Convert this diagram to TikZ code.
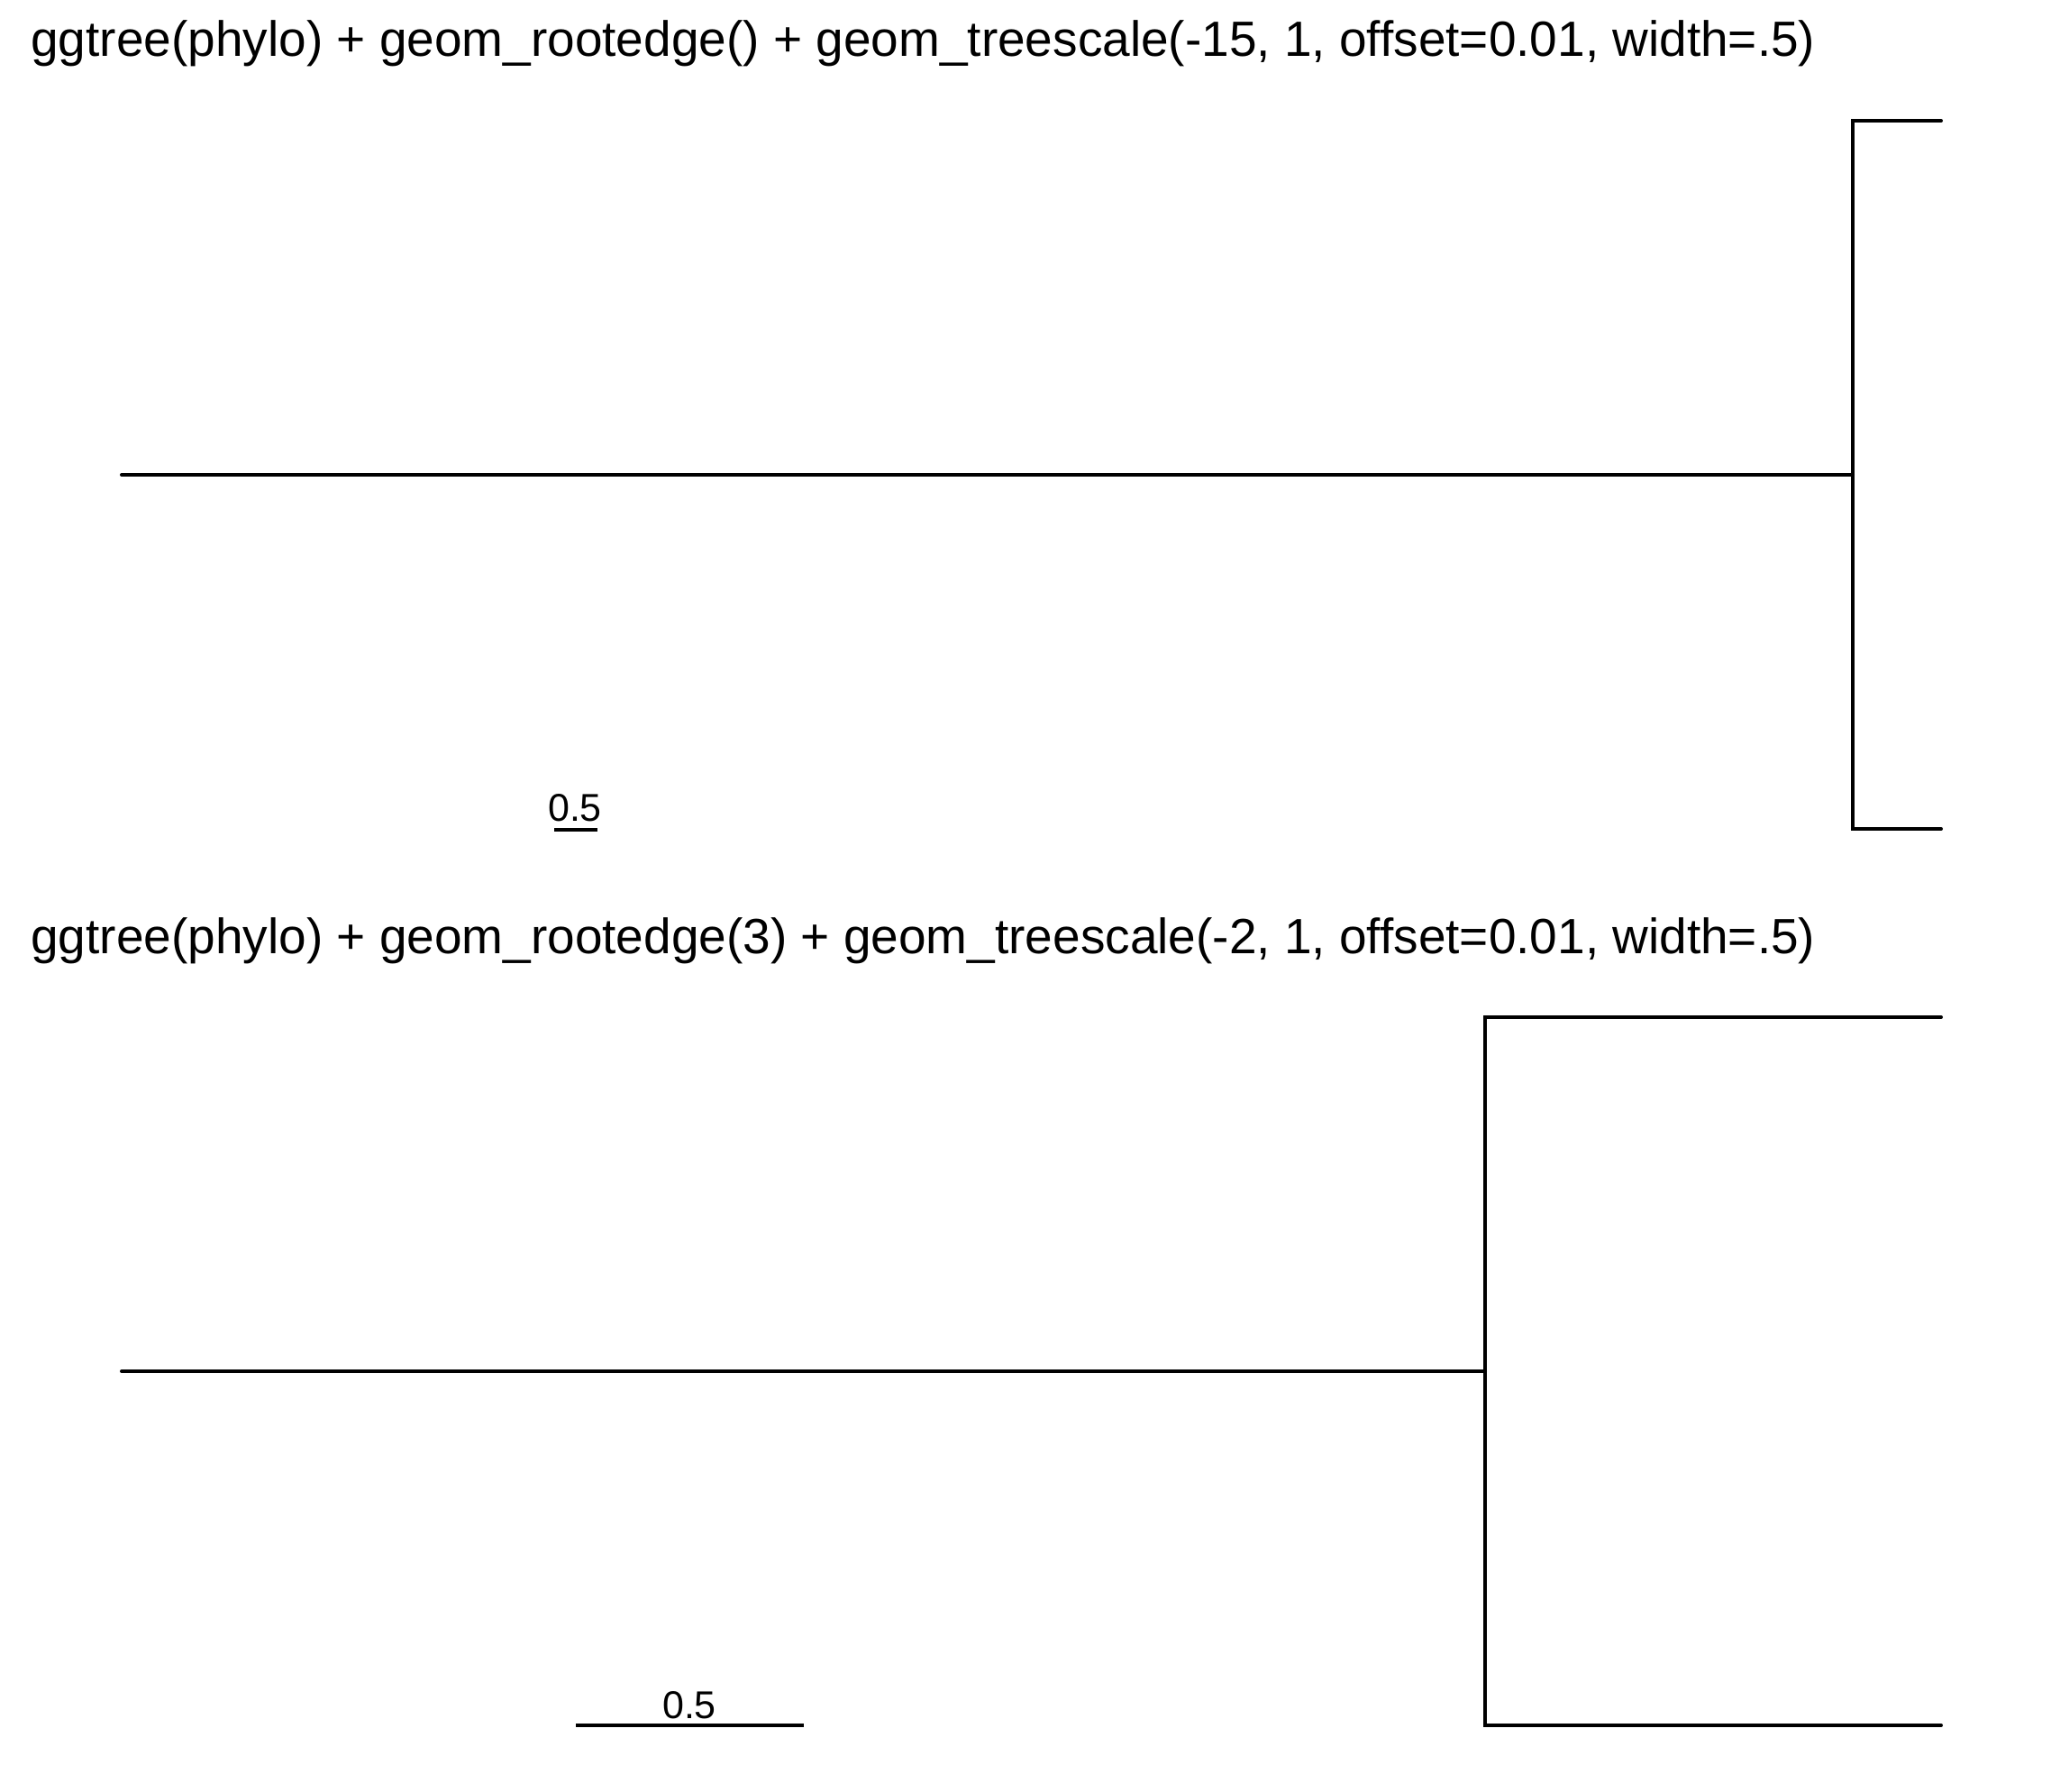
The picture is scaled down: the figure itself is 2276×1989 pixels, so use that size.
\documentclass[tikz,border=0pt]{standalone}
\usepackage{fontspec}
\setmainfont{Liberation Sans}
\begin{document}
\begin{tikzpicture}[x=0.5pt,y=-0.5pt,
  edge/.style={line width=2pt,line cap=round,line join=miter,black},
  titletext/.style={anchor=base west,inner sep=0pt,font=\fontsize{27.5pt}{33pt}\selectfont},
  scaletext/.style={anchor=base,inner sep=0pt,font=\fontsize{21.5pt}{26pt}\selectfont}]
\useasboundingbox[fill=white] (0,0) rectangle (2276,1989);
% ---------- top panel ----------
\node[titletext] (t1) at (34,63) {ggtree(phylo) + geom\_rootedge() + geom\_treescale(-15, 1, offset=0.01, width=.5)};
\coordinate (r1) at (135,527);
\coordinate (n1) at (2056,527);
\coordinate (n1a) at (2056,134);
\coordinate (n1b) at (2056,920);
\coordinate (l1a) at (2154,134);
\coordinate (l1b) at (2154,920);
\draw[edge] (r1) -- (n1);
\draw[edge] (l1a) -- (n1a) -- (n1b) -- (l1b);
\coordinate (s1a) at (615,921);
\coordinate (s1b) at (663,921);
\draw[edge,line cap=butt] (s1a) -- (s1b);
\node[scaletext] (sl1) at (638,912) {0.5};
% ---------- bottom panel ----------
\node[titletext] (t2) at (34,1058) {ggtree(phylo) + geom\_rootedge(3) + geom\_treescale(-2, 1, offset=0.01, width=.5)};
\coordinate (r2) at (135,1522);
\coordinate (n2) at (1648,1522);
\coordinate (n2a) at (1648,1129);
\coordinate (n2b) at (1648,1915);
\coordinate (l2a) at (2154,1129);
\coordinate (l2b) at (2154,1915);
\draw[edge] (r2) -- (n2);
\draw[edge] (l2a) -- (n2a) -- (n2b) -- (l2b);
\coordinate (s2a) at (639,1915);
\coordinate (s2b) at (892,1915);
\draw[edge,line cap=butt] (s2a) -- (s2b);
\node[scaletext] (sl2) at (765,1907) {0.5};
\end{tikzpicture}
\end{document}
